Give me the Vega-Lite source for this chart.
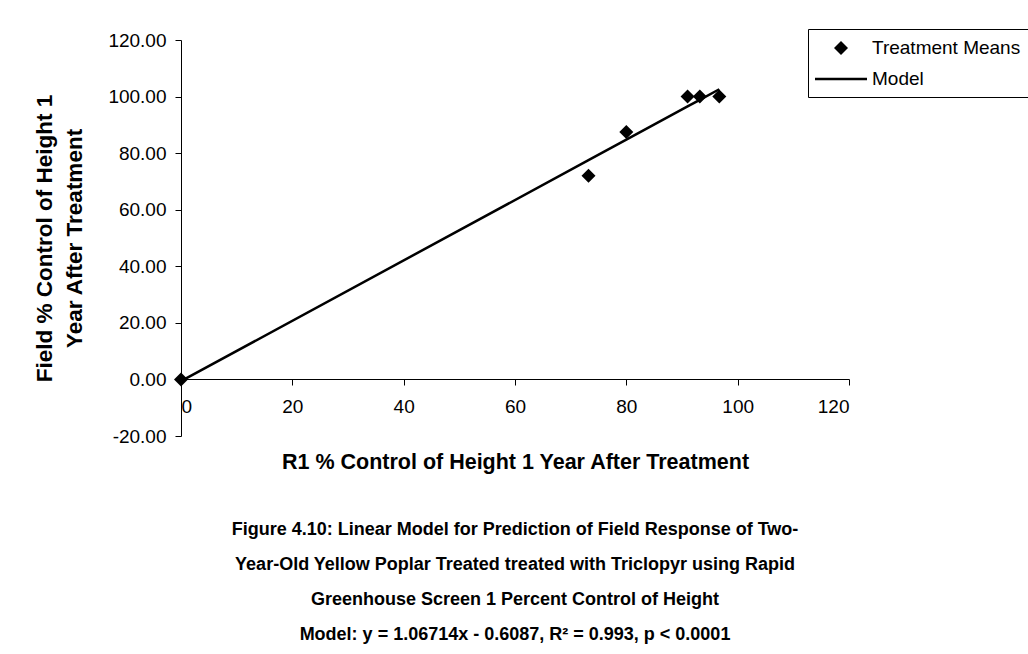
{
  "$schema": "https://vega.github.io/schema/vega-lite/v6.json",
  "width": 668,
  "height": 396,
  "autosize": {"type": "none"},
  "padding": {"left": 181, "top": 40, "right": 179, "bottom": 218},
  "background": "white",
  "config": {
    "font": "Liberation Sans",
    "view": {"stroke": null},
    "axis": {
      "domainColor": "black",
      "tickColor": "black",
      "labelColor": "black",
      "titleColor": "black",
      "labelFont": "Liberation Sans",
      "titleFont": "Liberation Sans",
      "labelFontSize": 19,
      "titleFontSize": 21.5,
      "titleFontWeight": "bold",
      "tickSize": 6,
      "grid": false
    }
  },
  "title": {
    "text": [
      "Figure 4.10: Linear Model for Prediction of Field Response of Two-",
      "Year-Old Yellow Poplar Treated treated with Triclopyr using Rapid",
      "Greenhouse Screen 1 Percent Control of Height",
      "Model: y = 1.06714x - 0.6087, R² = 0.993, p < 0.0001"
    ],
    "orient": "bottom",
    "anchor": "middle",
    "font": "Liberation Sans",
    "fontSize": 18,
    "fontWeight": "bold",
    "color": "black",
    "lineHeight": 35,
    "offset": 48
  },
  "datasets": {
    "means": [
      {"r1": 0, "field": 0, "series": "Treatment Means"},
      {"r1": 73.2, "field": 72.0, "series": "Treatment Means"},
      {"r1": 80.0, "field": 87.5, "series": "Treatment Means"},
      {"r1": 91.0, "field": 100.0, "series": "Treatment Means"},
      {"r1": 93.2, "field": 100.0, "series": "Treatment Means"},
      {"r1": 96.7, "field": 100.0, "series": "Treatment Means"}
    ],
    "model": [
      {"r1": 0, "field": -0.61, "series": "Model"},
      {"r1": 73.2, "field": 77.51, "series": "Model"},
      {"r1": 80.0, "field": 84.76, "series": "Model"},
      {"r1": 91.0, "field": 96.50, "series": "Model"},
      {"r1": 93.2, "field": 98.85, "series": "Model"},
      {"r1": 96.7, "field": 102.58, "series": "Model"}
    ]
  },
  "encoding": {
    "x": {
      "field": "r1",
      "type": "quantitative",
      "scale": {"domain": [0, 120], "nice": false, "zero": false},
      "axis": {
        "title": "R1 % Control of Height 1 Year After Treatment",
        "values": [0, 20, 40, 60, 80, 100, 120],
        "format": "d",
        "offset": -57,
        "labelPadding": 12,
        "titlePadding": 35
      }
    },
    "y": {
      "field": "field",
      "type": "quantitative",
      "scale": {"domain": [-20, 120], "nice": false, "zero": false},
      "axis": {
        "title": ["Field % Control of Height 1", "Year After Treatment"],
        "titleFontSize": 22.5,
        "values": [-20, 0, 20, 40, 60, 80, 100, 120],
        "labelExpr": "replace(format(datum.value, '.2f'), '\u2212', '-')",
        "labelPadding": 9,
        "titlePadding": 21,
        "titleLineHeight": 30
      }
    }
  },
  "layer": [
    {
      "data": {"name": "model"},
      "mark": {"type": "line", "color": "black", "strokeWidth": 2.5, "clip": false},
      "encoding": {}
    },
    {
      "data": {"name": "means"},
      "mark": {"type": "point", "filled": true, "color": "black", "opacity": 1, "size": 400, "clip": false},
      "encoding": {
        "shape": {
          "field": "series",
          "type": "nominal",
          "scale": {
            "domain": ["Treatment Means", "Model"],
            "range": ["M0,-0.7L0.7,0L0,0.7L-0.7,0Z", "M-2.6,-0.12L2.6,-0.12L2.6,0.12L-2.6,0.12Z"]
          },
          "legend": {
            "title": null,
            "orient": "none",
            "legendX": 627,
            "legendY": -11,
            "strokeColor": "black",
            "fillColor": "white",
            "cornerRadius": 0,
            "padding": 8,
            "rowPadding": 10,
            "symbolSize": 400,
            "symbolOffset": 14,
            "labelOffset": 20,
            "symbolFillColor": "black",
            "symbolOpacity": 1,
            "labelFont": "Liberation Sans",
            "labelFontSize": 19,
            "labelColor": "black",
            "labelLimit": 300
          }
        }
      }
    }
  ]
}
